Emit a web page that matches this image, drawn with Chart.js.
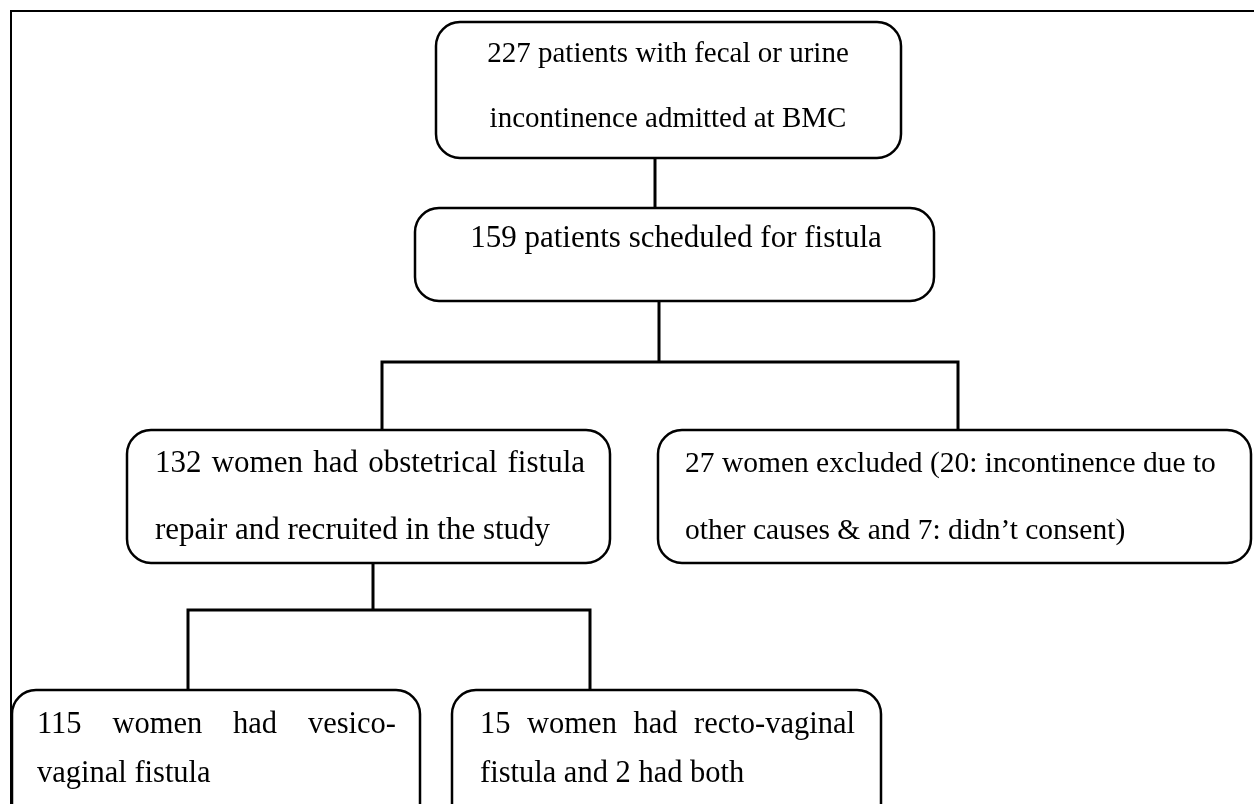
<!DOCTYPE html>
<html>
<head>
<meta charset="utf-8">
<script src="https://cdn.jsdelivr.net/npm/chart.js@4"></script>
<style>
  html, body { margin: 0; padding: 0; background: #fff; }
  #wrap { width: 1254px; height: 804px; position: relative; }
</style>
</head>
<body>
<div id="wrap"><canvas id="flow"></canvas></div>
<script>
// flow steps (text of each box)
const stepIds = ["screened", "scheduled", "recruited", "excluded", "vvf", "rvf"];
const stepLines = [
    ["227 patients with fecal or urine", "incontinence admitted at BMC"],
    ["159 patients scheduled for fistula"],
    ["132 women had obstetrical fistula", "repair and recruited in the study"],
    ["27 women excluded (20: incontinence due to", "other causes & and 7: didn\u2019t consent)"],
    ["115 women had vesico-", "vaginal fistula"],
    ["15 women had recto-vaginal", "fistula and 2 had both"],
];
// parent -> children
const links = [
    ["screened", ["scheduled"]],
    ["scheduled", ["recruited", "excluded"]],
    ["recruited", ["vvf", "rvf"]],
];

// layout (pixel space of the 1254x804 frame)
const layout = {
    screened:  {x0: 436, y0: 22,  x1: 901,  y1: 158, align: "center", tx: 668, base: [62, 127], size: 29},
    scheduled: {x0: 415, y0: 208, x1: 934,  y1: 301, align: "center", tx: 676, base: [247], size: 31},
    recruited: {x0: 127, y0: 430, x1: 610,  y1: 563, align: "left", tx: 155, base: [472, 539], size: 31, justify: 585},
    excluded:  {x0: 658, y0: 430, x1: 1251, y1: 563, align: "left", tx: 685, base: [472, 539], size: 29.5},
    vvf:       {x0: 12,  y0: 690, x1: 420,  y1: 830, align: "left", tx: 37, base: [733, 782], size: 30.5, justify: 396},
    rvf:       {x0: 452, y0: 690, x1: 881,  y1: 830, align: "left", tx: 480, base: [733, 782], size: 30.5, justify: 855},
};
const joins = {
    screened:  {stem: 655, branchY: null, drops: [655]},
    scheduled: {stem: 659, branchY: 362, drops: [382, 958]},
    recruited: {stem: 373, branchY: 610, drops: [188, 590]},
};

function roundRect(ctx, x0, y0, x1, y1, r) {
    ctx.beginPath();
    ctx.moveTo(x0 + r, y0);
    ctx.lineTo(x1 - r, y0);
    ctx.arcTo(x1, y0, x1, y0 + r, r);
    ctx.lineTo(x1, y1 - r);
    ctx.arcTo(x1, y1, x1 - r, y1, r);
    ctx.lineTo(x0 + r, y1);
    ctx.arcTo(x0, y1, x0, y1 - r, r);
    ctx.lineTo(x0, y0 + r);
    ctx.arcTo(x0, y0, x0 + r, y0, r);
    ctx.closePath();
}

const flowPlugin = {
    id: "flow",
    afterDraw(chart) {
        const ctx = chart.ctx;
        const sx = chart.scales.x, sy = chart.scales.y;
        const X = v => sx.getPixelForValue(v);
        const Y = v => sy.getPixelForValue(v);
        ctx.save();

        // outer frame
        ctx.strokeStyle = "#000";
        ctx.lineWidth = 2;
        ctx.beginPath();
        ctx.moveTo(X(11), Y(804));
        ctx.lineTo(X(11), Y(11));
        ctx.lineTo(X(1254), Y(11));
        ctx.stroke();

        // connectors
        ctx.lineWidth = 3;
        links.forEach(([from, kids]) => {
            const a = layout[from], j = joins[from];
            ctx.beginPath();
            if (j.branchY === null) {
                const b = layout[kids[0]];
                ctx.moveTo(X(j.stem), Y(a.y1));
                ctx.lineTo(X(j.stem), Y(b.y0));
            } else {
                ctx.moveTo(X(j.stem), Y(a.y1));
                ctx.lineTo(X(j.stem), Y(j.branchY));
                ctx.moveTo(X(j.drops[0]), Y(j.branchY));
                ctx.lineTo(X(j.drops[1]), Y(j.branchY));
                kids.forEach((k, i) => {
                    ctx.moveTo(X(j.drops[i]), Y(j.branchY - 1.5));
                    ctx.lineTo(X(j.drops[i]), Y(layout[k].y0));
                });
            }
            ctx.stroke();
        });

        // boxes and text
        ctx.textBaseline = "alphabetic";
        stepIds.forEach((id, i) => {
            const b = layout[id];
            roundRect(ctx, X(b.x0), Y(b.y0), X(b.x1), Y(b.y1), 24);
            ctx.fillStyle = "#fff";
            ctx.fill();
            ctx.lineWidth = 2.5;
            ctx.strokeStyle = "#000";
            ctx.stroke();

            ctx.font = b.size + "px 'Liberation Serif', 'Times New Roman', serif";
            ctx.fillStyle = "#000";
            stepLines[i].forEach((line, li) => {
                const y = Y(b.base[li]);
                if (b.justify && li === 0) {
                    const words = line.split(" ");
                    const widths = words.map(w => ctx.measureText(w).width);
                    const total = widths.reduce((s, w) => s + w, 0);
                    const gap = (X(b.justify) - X(b.tx) - total) / (words.length - 1);
                    let x = X(b.tx);
                    ctx.textAlign = "left";
                    words.forEach((w, wi) => {
                        ctx.fillText(w, x, y);
                        x += widths[wi] + gap;
                    });
                } else {
                    ctx.textAlign = b.align;
                    ctx.fillText(line, X(b.tx), y);
                }
            });
        });
        ctx.restore();
    }
};

new Chart(document.getElementById("flow"), {
    type: "scatter",
    data: {datasets: [{data: [], pointRadius: 0}]},
    options: {
        responsive: true,
        maintainAspectRatio: false,
        animation: false,
        layout: {padding: 0},
        plugins: {legend: {display: false}, tooltip: {enabled: false}},
        scales: {
            x: {type: "linear", min: 0, max: 1254, display: false},
            y: {type: "linear", min: 0, max: 804, reverse: true, display: false},
        },
    },
    plugins: [flowPlugin],
});
</script>
</body>
</html>
